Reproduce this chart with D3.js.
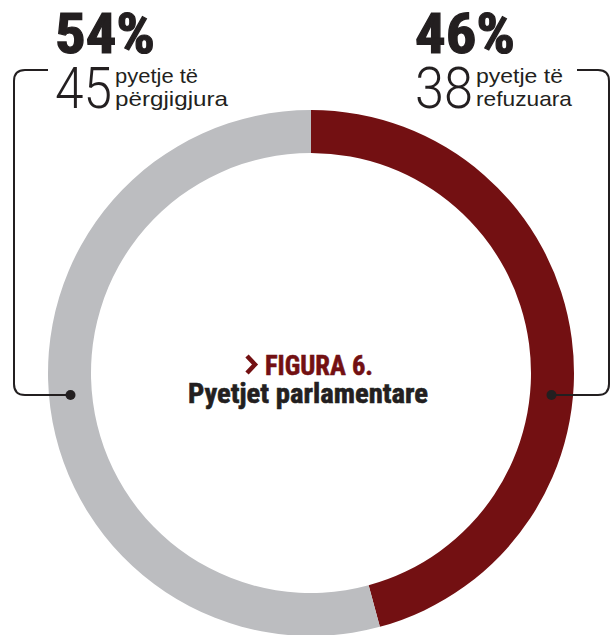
<!DOCTYPE html>
<html><head><meta charset="utf-8">
<script src="https://cdn.jsdelivr.net/npm/d3@7"></script>
<style>
html,body{margin:0;padding:0;background:#fff;}
svg{display:block;}
</style></head>
<body>
<svg id="chart" width="613" height="635"></svg>
<script>
const categories = ["pyetje të refuzuara", "pyetje të përgjigjura"];
const values = [38, 45];
const percents = ["46%", "54%"];
const colors = ["#731012", "#bcbdc0"];
const titleLines = ["FIGURA 6.", "Pyetjet parlamentare"];

const svg = d3.select("#chart");
const cx = 311, cy = 373, rOuter = 263, rInner = 220;
const g = svg.append("g").attr("transform", `translate(${cx},${cy})`);

const pie = d3.pie().sort(null).value(d => d)(values);
const arc = d3.arc().innerRadius(rInner).outerRadius(rOuter);
g.selectAll("path").data(pie).join("path")
  .attr("d", arc).attr("fill", (d, i) => colors[i]);

const condensed = "'Liberation Sans Narrow','Arial Narrow','Roboto Condensed',sans-serif";
const light = "Roboto, 'Liberation Sans', sans-serif";
const helv = "'Liberation Sans', Arial, sans-serif";
const ink = "#231f20";

// connectors
const rMid = (rInner + rOuter) / 2;
const dotY = cy + 22;
const dxMid = Math.sqrt(rMid * rMid - 22 * 22);
const rc = 11;
const lx = cx - dxMid, rx = cx + dxMid;
svg.append("path").attr("fill", "none").attr("stroke", ink).attr("stroke-width", 2)
  .attr("d", `M${lx},${dotY} H${14 + rc} Q14,${dotY} 14,${dotY - rc} V${70 + rc} Q14,70 ${14 + rc},70 H48`);
svg.append("path").attr("fill", "none").attr("stroke", ink).attr("stroke-width", 2)
  .attr("d", `M${rx},${dotY} H${609 - rc} Q609,${dotY} 609,${dotY - rc} V${70 + rc} Q609,70 ${609 - rc},70 H577`);
svg.append("circle").attr("cx", lx).attr("cy", dotY).attr("r", 5).attr("fill", ink);
svg.append("circle").attr("cx", rx).attr("cy", dotY).attr("r", 5).attr("fill", ink);

// labels
const labels = [
  {pct: percents[1], n: values[1], w1: "pyetje të", w2: "përgjigjura", x: 55, nw: 57, w1w: 83, w2w: 113},
  {pct: percents[0], n: values[0], w1: "pyetje të", w2: "refuzuara", x: 415, nw: 58, w1w: 87, w2w: 96}
];
labels.forEach(l => {
  svg.append("text").attr("x", l.x).attr("y", 53).attr("font-family", condensed)
    .attr("font-weight", 700).attr("font-size", 55).attr("fill", ink)
    .attr("stroke", ink).attr("stroke-width", 1.2)
    .attr("textLength", 100).attr("lengthAdjust", "spacingAndGlyphs").text(l.pct);
  svg.append("text").attr("x", l.x).attr("y", 108).attr("font-family", light)
    .attr("font-weight", 300).attr("font-size", 58).attr("fill", ink)
    .attr("textLength", l.nw).attr("lengthAdjust", "spacingAndGlyphs").text(l.n);
  const tx = l.x + l.nw + 3;
  svg.append("text").attr("x", tx).attr("y", 83).attr("font-family", helv)
    .attr("font-weight", 400).attr("font-size", 21).attr("fill", ink)
    .attr("textLength", l.w1w).attr("lengthAdjust", "spacingAndGlyphs").text(l.w1);
  svg.append("text").attr("x", tx).attr("y", 106).attr("font-family", helv)
    .attr("font-weight", 400).attr("font-size", 21).attr("fill", ink)
    .attr("textLength", l.w2w).attr("lengthAdjust", "spacingAndGlyphs").text(l.w2);
});

// center title
svg.append("path").attr("fill", "none").attr("stroke", colors[0]).attr("stroke-width", 4.5)
  .attr("stroke-linejoin", "miter")
  .attr("d", "M247,356 L255,364.5 L247,373");
svg.append("text").attr("x", 265).attr("y", 375)
  .attr("font-family", condensed).attr("font-weight", 700).attr("font-size", 28).attr("fill", colors[0])
  .attr("stroke", colors[0]).attr("stroke-width", 0.6)
  .attr("textLength", 108).attr("lengthAdjust", "spacingAndGlyphs")
  .text(titleLines[0]);
svg.append("text").attr("x", 188).attr("y", 403)
  .attr("font-family", condensed).attr("font-weight", 700).attr("font-size", 28).attr("fill", ink)
  .attr("stroke", ink).attr("stroke-width", 0.6)
  .attr("textLength", 240).attr("lengthAdjust", "spacingAndGlyphs")
  .text(titleLines[1]);
</script>
</body></html>
